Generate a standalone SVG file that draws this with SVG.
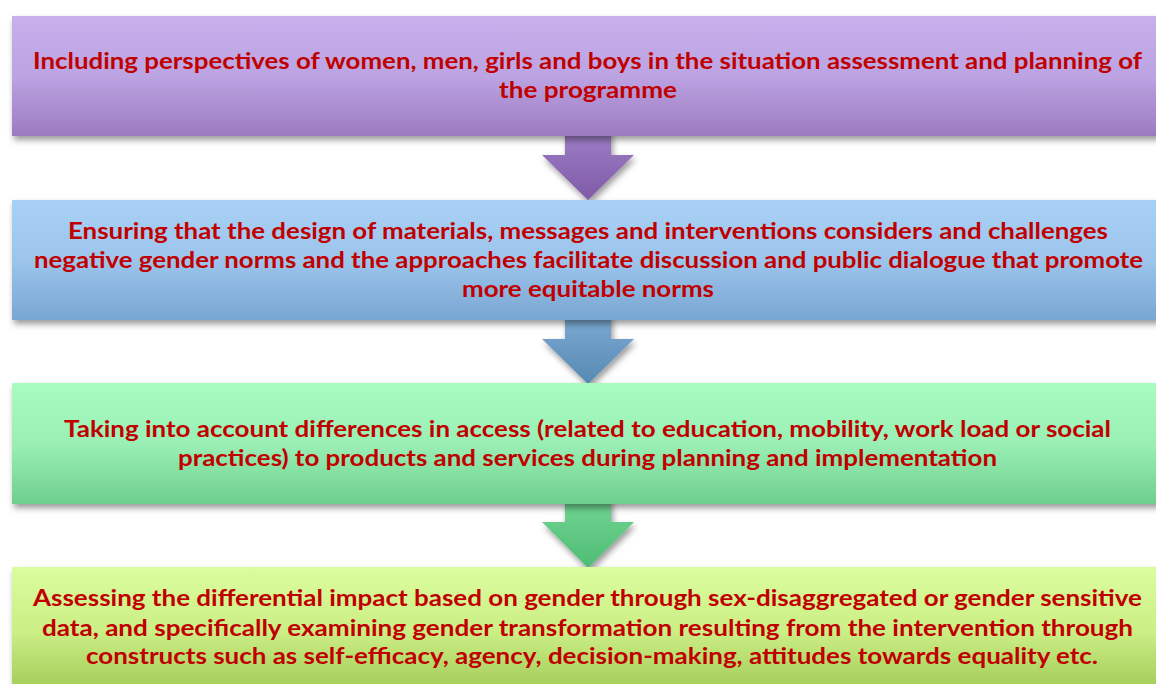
<svg xmlns="http://www.w3.org/2000/svg" width="1156" height="684" viewBox="0 0 1156 684">
  <style>
    .lbl { font-family: Lato, "Liberation Sans", sans-serif; font-weight: 700; font-size: 23.5px; fill: #c00000; text-anchor: middle; }
  </style>
  <defs>
    <filter id="shadow" x="-5%" y="-20%" width="110%" height="150%">
      <feDropShadow dx="2" dy="4" stdDeviation="3" flood-color="#000" flood-opacity="0.4"/>
    </filter>
    <linearGradient id="gPurple" x1="0" y1="0" x2="0" y2="1">
      <stop offset="0" stop-color="#c7b0ec"/>
      <stop offset="0.5" stop-color="#bca3e2"/>
      <stop offset="1" stop-color="#9b7bc0"/>
    </linearGradient>
    <linearGradient id="gBlue" x1="0" y1="0" x2="0" y2="1">
      <stop offset="0" stop-color="#a9d1f5"/>
      <stop offset="0.5" stop-color="#9dc5ec"/>
      <stop offset="1" stop-color="#78a6d2"/>
    </linearGradient>
    <linearGradient id="gGreen" x1="0" y1="0" x2="0" y2="1">
      <stop offset="0" stop-color="#a8fcc2"/>
      <stop offset="0.5" stop-color="#9aefb4"/>
      <stop offset="1" stop-color="#6ecf8f"/>
    </linearGradient>
    <linearGradient id="gLime" x1="0" y1="0" x2="0" y2="1">
      <stop offset="0" stop-color="#dcfd9e"/>
      <stop offset="0.5" stop-color="#cbee85"/>
      <stop offset="1" stop-color="#9dc752"/>
    </linearGradient>
    <linearGradient id="aPurple" x1="0" y1="0" x2="0" y2="1">
      <stop offset="0" stop-color="#9e7fc6"/>
      <stop offset="1" stop-color="#7f5aa8"/>
    </linearGradient>
    <linearGradient id="aBlue" x1="0" y1="0" x2="0" y2="1">
      <stop offset="0" stop-color="#7eabd4"/>
      <stop offset="1" stop-color="#5689b3"/>
    </linearGradient>
    <linearGradient id="aGreen" x1="0" y1="0" x2="0" y2="1">
      <stop offset="0" stop-color="#72d593"/>
      <stop offset="1" stop-color="#4ebd75"/>
    </linearGradient>
  </defs>

  <!-- down arrows between the steps -->
  <g id="connectors" filter="url(#shadow)">
    <polygon fill="url(#aPurple)" points="565,130 611,130 611,155 634,155 588,200 542,155 565,155"/>
    <polygon fill="url(#aBlue)" points="565,314 611,314 611,339 634,339 588,384 542,339 565,339"/>
    <polygon fill="url(#aGreen)" points="565,498 611,498 611,522 634,522 588,568 542,522 565,522"/>
  </g>

  <g id="step1">
    <rect x="12" y="16" width="1150" height="120" fill="url(#gPurple)" filter="url(#shadow)"/>
    <text class="lbl" x="587.5" y="69" textLength="1109" lengthAdjust="spacingAndGlyphs">Including perspectives of women, men, girls and boys in the situation assessment and planning of</text>
    <text class="lbl" x="588" y="98" textLength="178" lengthAdjust="spacingAndGlyphs">the programme</text>
  </g>

  <g id="step2">
    <rect x="12" y="200" width="1150" height="120" fill="url(#gBlue)" filter="url(#shadow)"/>
    <text class="lbl" x="588" y="239" textLength="1040" lengthAdjust="spacingAndGlyphs">Ensuring that the design of materials, messages and interventions considers and challenges</text>
    <text class="lbl" x="588.5" y="268" textLength="1109" lengthAdjust="spacingAndGlyphs">negative gender norms and the approaches facilitate discussion and public dialogue that promote</text>
    <text class="lbl" x="588" y="297" textLength="252" lengthAdjust="spacingAndGlyphs">more equitable norms</text>
  </g>

  <g id="step3">
    <rect x="12" y="383" width="1150" height="121" fill="url(#gGreen)" filter="url(#shadow)"/>
    <text class="lbl" x="587.5" y="437" textLength="1047" lengthAdjust="spacingAndGlyphs">Taking into account differences in access (related to education, mobility, work load or social</text>
    <text class="lbl" x="587.5" y="466" textLength="819" lengthAdjust="spacingAndGlyphs">practices) to products and services during planning and implementation</text>
  </g>

  <g id="step4">
    <rect x="12" y="567" width="1150" height="130" fill="url(#gLime)" filter="url(#shadow)"/>
    <text class="lbl" x="587.5" y="606" textLength="1109" lengthAdjust="spacingAndGlyphs">Assessing the differential impact based on gender through sex-disaggregated or gender sensitive</text>
    <text class="lbl" x="587.5" y="636" textLength="1091" lengthAdjust="spacingAndGlyphs">data, and specifically examining gender transformation resulting from the intervention through</text>
    <text class="lbl" x="592" y="664" textLength="1012" lengthAdjust="spacingAndGlyphs">constructs such as self-efficacy, agency, decision-making, attitudes towards equality etc.</text>
  </g>
</svg>
